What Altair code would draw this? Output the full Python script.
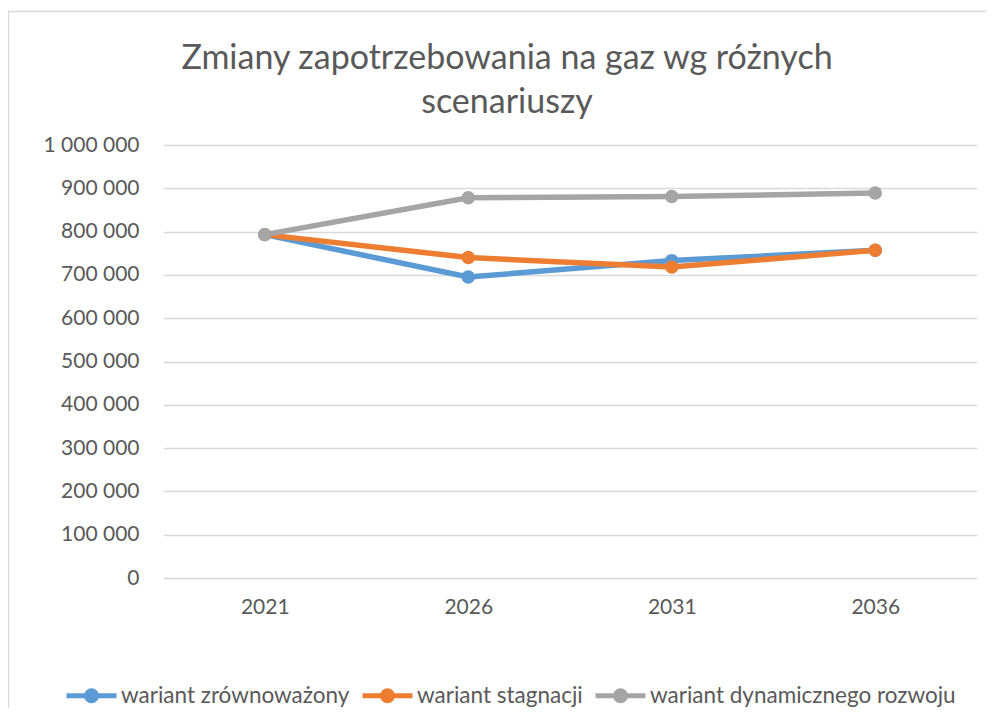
import altair as alt
import pandas as pd

years = ["2021", "2026", "2031", "2036"]
series_names = ["wariant zrównoważony", "wariant stagnacji", "wariant dynamicznego rozwoju"]
v_zrownowazony = [793000, 695000, 733000, 757000]
v_stagnacji = [793000, 740000, 718000, 757000]
v_dynamiczny = [793000, 878000, 881000, 889000]
colors = ["#5B9BD5", "#ED7D31", "#A5A5A5"]
y_ticks = [0, 100000, 200000, 300000, 400000, 500000, 600000, 700000, 800000, 900000, 1000000]
title_lines = ["Zmiany zapotrzebowania na gaz wg różnych", "scenariuszy"]

rows = []
for name, vals in zip(series_names, [v_zrownowazony, v_stagnacji, v_dynamiczny]):
    for yr, v in zip(years, vals):
        rows.append({"rok": yr, "seria": name, "wartosc": v, "ord": series_names.index(name)})
df = pd.DataFrame(rows)

FONT = "Lato"
GREY = "#595959"

color = alt.Color(
    "seria:N",
    scale=alt.Scale(domain=series_names, range=colors),
    legend=alt.Legend(
        title=None,
        orient="none",
        direction="horizontal",
        legendX=-99,
        legendY=523,
        symbolType="M-1,0L1,0M-0.2,0A0.2,0.2,0,1,1,0.2,0A0.2,0.2,0,1,1,-0.2,0Z",
        symbolSize=2500,
        symbolStrokeWidth=5,
        labelFont=FONT,
        labelFontSize=22.5,
        labelColor=GREY,
        labelOffset=2,
        columnPadding=2,
        labelLimit=400,
    ),
)

x = alt.X(
    "rok:O",
    sort=years,
    scale=alt.Scale(padding=0.5),
    axis=alt.Axis(title=None, labelAngle=0, domain=False, ticks=False, labelPadding=18,
                  labelFont=FONT, labelFontSize=21, labelColor=GREY, grid=False),
)
y = alt.Y(
    "wartosc:Q",
    scale=alt.Scale(domain=[0, 1000000], nice=False),
    axis=alt.Axis(title=None, values=y_ticks, domain=False, ticks=False, labelPadding=24,
                  labelFont=FONT, labelFontSize=21, labelColor=GREY,
                  gridColor="#D9D9D9", gridWidth=1.3,
                  labelExpr="replace(format(datum.value, ','), /,/g, ' ')"),
)

base = alt.Chart(df)
lines = base.mark_line(strokeWidth=5.5).encode(x=x, y=y, color=color, detail="seria:N", order="ord:Q")
points = base.mark_point(filled=True, size=180, opacity=1).encode(
    x=x, y=y, color=color,
    fill=alt.Fill("seria:N", scale=alt.Scale(domain=series_names, range=colors), legend=None),
)

border = alt.Chart(pd.DataFrame({"a": [0]})).mark_rect(
    fill=None, stroke="#D9D9D9", strokeWidth=1.3
).encode(x=alt.value(-154.5), x2=alt.value(2000), y=alt.value(-133.5), y2=alt.value(2000))

t1 = alt.Chart(pd.DataFrame({"t": [title_lines[0]]})).mark_text(
    font=FONT, fontSize=34, color=GREY, align="center", baseline="middle"
).encode(text="t:N", x=alt.value(344), y=alt.value(-86))
t2 = alt.Chart(pd.DataFrame({"t": [title_lines[1]]})).mark_text(
    font=FONT, fontSize=34, color=GREY, align="center", baseline="middle"
).encode(text="t:N", x=alt.value(344), y=alt.value(-42))

chart = alt.layer(border, t1, t2, lines, points).properties(
    width=814,
    height=433,
    autosize=alt.AutoSizeParams(type="none"),
    padding={"left": 155, "top": 137, "right": 9, "bottom": 130},
).configure_view(stroke=None)

chart.save("out.html", embed_options={"renderer": "svg", "actions": False})
